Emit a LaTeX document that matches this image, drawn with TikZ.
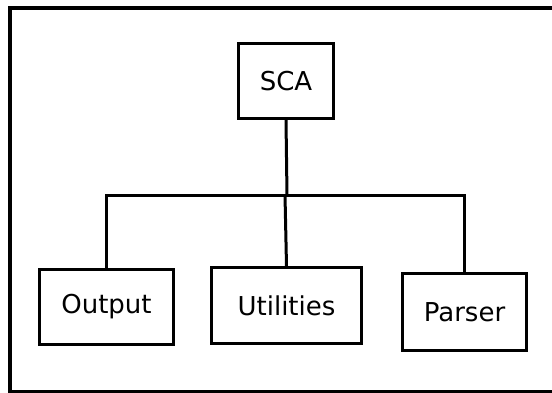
\documentclass[tikz,border=0pt]{standalone}
\usepackage{fontspec}
\setmainfont{DejaVu Sans}
\begin{document}
\begin{tikzpicture}[x=1pt,y=-1pt,
  frame/.style={draw=black, line width=3.5pt},
  box/.style={draw=black, line width=3pt, rectangle, inner sep=0pt,
    font=\fontsize{26}{30}\selectfont},
  link/.style={draw=black, line width=3pt, line join=miter}]
\useasboundingbox (0,0) rectangle (552,392);
\clip (0,0) rectangle (552,392);
% outer frame
\draw[frame] (10,8) rectangle (557,392);
% modules
\node[box, minimum width=95pt, minimum height=75pt] (sca) at (286,81) {SCA};
\node[box, minimum width=134pt, minimum height=75pt] (output) at (106.5,307) {Output};
\node[box, minimum width=150pt, minimum height=76pt] (utilities) at (286.5,305.5) {Utilities};
\node[box, minimum width=124pt, minimum height=77pt] (parser) at (464.5,312) {Parser};
% junction points on the bus
\coordinate (hub) at (287,195);
\coordinate (hu) at (285,195);
% connectors
\draw[link] (sca.south) -- (hub);
\draw[link] (output.north) -- (output.north |- hub) -- (parser.north |- hub) -- (parser.north);
\draw[link] (hu) -- (utilities.north);
\end{tikzpicture}
\end{document}
